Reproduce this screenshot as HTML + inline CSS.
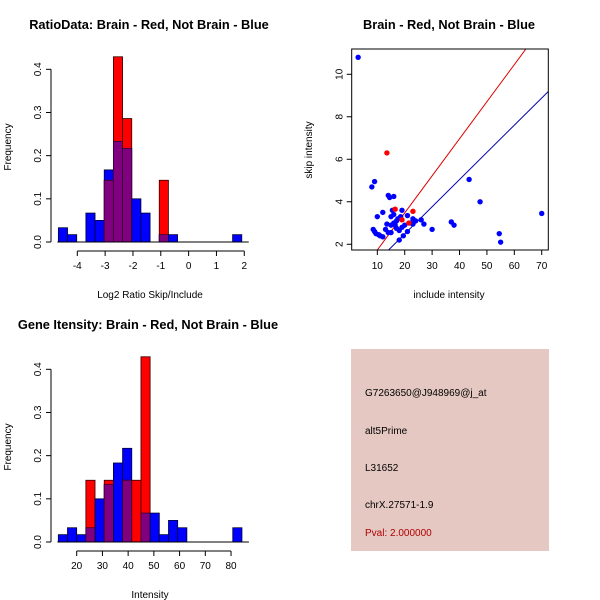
<!DOCTYPE html>
<html><head><meta charset="utf-8"><style>
body{margin:0;background:#fff}
svg{display:block;font-family:"Liberation Sans",sans-serif}
</style></head><body>
<svg id="s" width="600" height="600" viewBox="0 0 600 600">
<rect width="600" height="600" fill="#fff"/>
<text x="149" y="29" font-size="12.8" font-weight="bold" text-anchor="middle">RatioData: Brain - Red, Not Brain - Blue</text>
<text x="449" y="29" font-size="12.8" font-weight="bold" text-anchor="middle">Brain - Red, Not Brain - Blue</text>
<text x="148" y="329" font-size="12.8" font-weight="bold" text-anchor="middle">Gene Itensity: Brain - Red, Not Brain - Blue</text>
<text x="150" y="298" font-size="10" text-anchor="middle">Log2 Ratio Skip/Include</text>
<text x="150" y="598" font-size="10" text-anchor="middle">Intensity</text>
<text x="449" y="298" font-size="10" text-anchor="middle">include intensity</text>
<text transform="translate(11,147) rotate(-90)" font-size="10" text-anchor="middle">Frequency</text>
<text transform="translate(11,447) rotate(-90)" font-size="10" text-anchor="middle">Frequency</text>
<text transform="translate(312,150) rotate(-90)" font-size="10" text-anchor="middle">skip intensity</text>
<g>
<rect x="351" y="349" width="198" height="202" fill="#e5c8c2"/>
<text x="365" y="396" font-size="10">G7263650@J948969@j_at</text>
<text x="365" y="434" font-size="10">alt5Prime</text>
<text x="365" y="471" font-size="10">L31652</text>
<text x="365" y="508" font-size="10">chrX.27571-1.9</text>
<text x="365" y="536" font-size="10" fill="#b00000">Pval: 2.000000</text>
</g>
</svg>
<script>
// Ratio histogram data
const ratioBlue=[0.033,0.017,0,0.067,0.05,0.167,0.233,0.217,0.1,0.067,0,0.017,0.017,0,0,0,0,0,0,0.017];
const ratioRed=[0,0,0,0,0,0.143,0.429,0.286,0,0,0,0.143,0,0,0,0,0,0,0,0];
const ratioStart=-4.68, ratioWidth=0.3295;
const ratioTicks=[-4,-3,-2,-1,0,1,2];
// Intensity histogram data
const intBlue=[0.017,0.033,0.017,0.033,0.1,0.133,0.183,0.217,0,0.067,0.067,0.017,0.05,0.033,0,0,0,0,0,0.033];
const intRed=[0,0,0,0.143,0,0.143,0,0.143,0.143,0.429,0,0,0,0,0,0,0,0,0,0];
const intStart=12.85, intWidth=3.57;
const intTicks=[20,30,40,50,60,70,80];
const freqTicks=[0,0.1,0.2,0.3,0.4];
const freqLabels=["0.0","0.1","0.2","0.3","0.4"];
// Scatter data
const blueX=[3,8,9,8.5,9,9.5,10,10.5,11,12,12,13,13.5,14,14.5,15,15.5,16,14,15,16,16.5,17,17.5,18,18,18.5,19,19,19.5,20,21,21,22,23,23,24,26,27,30,37,38,43.5,47.5,54.5,55,70,15,17,16];
const blueY=[10.8,4.7,4.95,2.7,2.6,2.5,3.3,2.45,2.4,2.35,3.5,2.7,2.95,4.3,4.2,3.3,3.6,4.25,2.55,2.55,3.0,2.9,3.1,3.2,2.2,2.65,3.3,3.6,2.8,2.4,2.9,3.35,2.6,3.0,3.2,2.95,3.1,3.15,2.95,2.7,3.05,2.9,5.05,4.0,2.5,2.1,3.45,2.9,2.75,3.4];
const redX=[13.5,16.5,23,19,21.5];
const redY=[6.3,3.65,3.55,3.15,3.0];
const redFit=[-0.015,0.1745];
const blueFit=[-0.075,0.128];
const sxTicks=[10,20,30,40,50,60,70];
const syTicks=[2,4,6,8,10];

const NS="http://www.w3.org/2000/svg";
const svg=document.getElementById('s');
function mk(t,a,p){const e=document.createElementNS(NS,t);for(const k in a)e.setAttribute(k,a[k]);(p||svg).appendChild(e);return e;}

function hist(g,x0,y0,yScaleTop,start,width,blue,red,xmap,ticks){
  const y=v=>y0-(y0-yScaleTop)*v/0.4;
  for(let i=0;i<blue.length;i++){
    const a=xmap(start+i*width),b=xmap(start+(i+1)*width);
    const bv=blue[i],rv=red[i];
    if(bv>0){const r=mk('rect',{x:a,y:y(bv),width:b-a,height:y0-y(bv),fill:'#0000ff',stroke:'#000033','stroke-width':0.8},g);
      
      }
    if(rv>0){const r=mk('rect',{x:a,y:y(rv),width:b-a,height:y0-y(rv),fill:'#ff0000',stroke:'#330000','stroke-width':0.8},g);
      
      }
    const m=Math.min(bv,rv);
    if(m>0){const r=mk('rect',{x:a,y:y(m),width:b-a,height:y0-y(m),fill:'#800080',stroke:'#330033','stroke-width':0.8},g);
      
      }
  }
  mk('line',{x1:xmap(start)-1,x2:xmap(start+blue.length*width)+7,y1:y0,y2:y0,stroke:'#000'},g);
  mk('line',{x1:x0,x2:x0,y1:y(0),y2:y(0.4),stroke:'#000'},g);
  freqTicks.forEach((v,i)=>{mk('line',{x1:x0-5,x2:x0,y1:y(v),y2:y(v),stroke:'#000'},g);
    const t=mk('text',{transform:`translate(${x0-10},${y(v)}) rotate(-90)`,'font-size':10,'text-anchor':'middle'},g);t.textContent=freqLabels[i];
    
    });
  const ax=y0+9;
  mk('line',{x1:xmap(ticks[0]),x2:xmap(ticks[ticks.length-1]),y1:ax,y2:ax,stroke:'#000'},g);
  ticks.forEach(v=>{mk('line',{x1:xmap(v),x2:xmap(v),y1:ax,y2:ax+5,stroke:'#000'},g);
    const t=mk('text',{x:xmap(v),y:ax+18,'font-size':10,'text-anchor':'middle'},g);t.textContent=v;
    
    });
}
const g1=mk('g',{});


hist(g1,51,242,69.3,ratioStart,ratioWidth,ratioBlue,ratioRed,v=>77.3+(v+4)*27.83,ratioTicks);
const g2=mk('g',{});


hist(g2,51,542,369.3,intStart,intWidth,intBlue,intRed,v=>76.7+(v-20)*2.572,intTicks);

const g3=mk('g',{});


const X0=0.65,X1=72.4,Y0=1.73,Y1=11.19,L=351.7,R=548.3,T=49,B=250;
const sx=v=>L+(v-X0)/(X1-X0)*(R-L), sy=v=>B-(v-Y0)/(Y1-Y0)*(B-T);
const cp=mk('clipPath',{id:'cp'},g3);mk('rect',{x:L,y:T,width:R-L,height:B-T},cp);
[[redFit,'#dd0000'],[blueFit,'#0000aa']].forEach(([f,c])=>{
  const l=mk('line',{x1:sx(X0),y1:sy(f[0]+f[1]*X0),x2:sx(X1),y2:sy(f[0]+f[1]*X1),stroke:c,'stroke-width':1,'clip-path':'url(#cp)'},g3);
  
  
});
blueX.forEach((x,i)=>{const c=mk('circle',{cx:sx(x),cy:sy(blueY[i]),r:2.7,fill:'#0000ff'},g3);
  
  });
redX.forEach((x,i)=>{const c=mk('circle',{cx:sx(x),cy:sy(redY[i]),r:2.7,fill:'#ff0000'},g3);
  
  });
mk('rect',{x:L,y:T,width:R-L,height:B-T,fill:'none',stroke:'#000'},g3);
sxTicks.forEach(v=>{mk('line',{x1:sx(v),x2:sx(v),y1:B,y2:B+5,stroke:'#000'},g3);
  const t=mk('text',{x:sx(v),y:B+19,'font-size':10,'text-anchor':'middle'},g3);t.textContent=v;
  
  });
syTicks.forEach(v=>{mk('line',{x1:L-5,x2:L,y1:sy(v),y2:sy(v),stroke:'#000'},g3);
  const t=mk('text',{transform:`translate(${L-9},${sy(v)}) rotate(-90)`,'font-size':10,'text-anchor':'middle'},g3);t.textContent=v;
  
  });
</script>
</body></html>
